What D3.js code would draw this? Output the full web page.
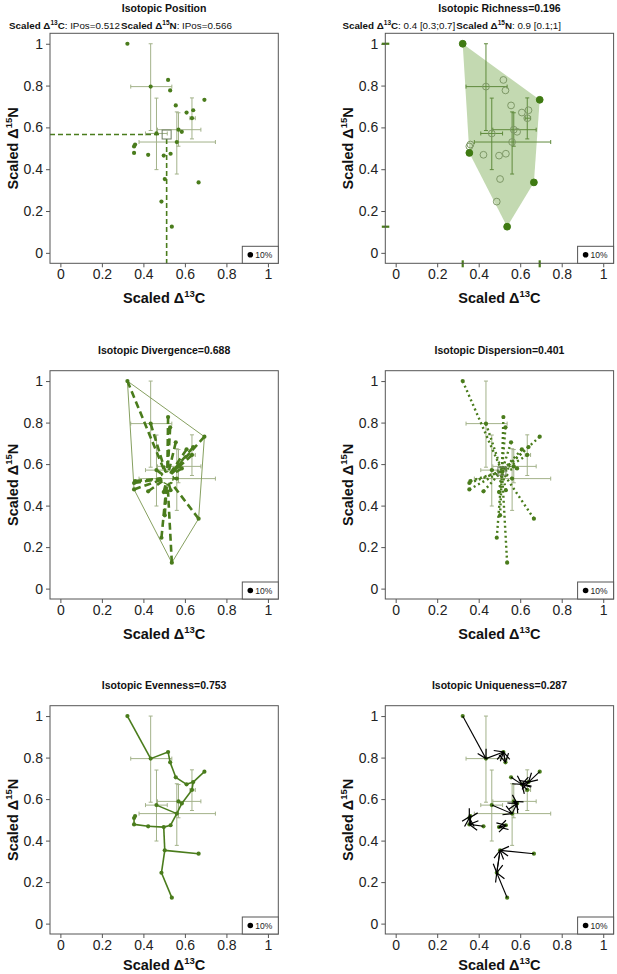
<!DOCTYPE html>
<html><head><meta charset="utf-8">
<script src="https://cdn.jsdelivr.net/npm/d3@7/dist/d3.min.js"></script>
<style>
html,body{margin:0;padding:0;background:#fff;}
svg{display:block;font-family:"Liberation Sans",Arial,sans-serif;}
</style></head>
<body>
<svg id="chart" width="617" height="974"></svg>
<script>
// ---- data (scaled isotopic values) ----
const c13 = [0.323,0.435,0.519,0.529,0.556,0.608,0.640,0.634,0.694,0.569,0.585,0.463,0.561,0.360,0.355,0.355,0.423,0.498,0.531,0.503,0.487,0.537,0.666];
const n15 = [1.000,0.795,0.827,0.777,0.705,0.671,0.682,0.644,0.732,0.589,0.579,0.571,0.530,0.518,0.509,0.478,0.469,0.465,0.474,0.353,0.245,0.125,0.337];
// error bars (mean ± sd) for species with several individuals
const sdIdx = [1, 11, 12, 9, 7];
const sdXlo = [0.339, 0.410, 0.379, 0.468, 0.624];
const sdXhi = [0.537, 0.515, 0.747, 0.677, 0.650];
const sdYlo = [0.585, 0.398, 0.377, 0.510, 0.545];
const sdYhi = [1.000, 0.740, 0.674, 0.670, 0.741];
// minimum spanning tree edges (Isotopic Evenness)
const mstEdges = [[0,1],[1,2],[2,3],[3,4],[4,5],[5,6],[6,8],[6,7],[7,10],[10,9],[10,12],[11,12],[12,18],[18,17],[17,16],[16,15],[15,14],[14,13],[17,19],[19,22],[19,20],[20,21]];
const ipos = [0.512, 0.566];
const panelTitles = ["Isotopic Position","Isotopic Richness=0.196","Isotopic Divergence=0.688","Isotopic Dispersion=0.401","Isotopic Evenness=0.753","Isotopic Uniqueness=0.287"];
const subC = [": IPos=0.512", ": 0.4 [0.3;0.7]"];
const subN = [": IPos=0.566", ": 0.9 [0.1;1]"];
const tickVals = [0, 0.2, 0.4, 0.6, 0.8, 1];
const tickLabels = ["0","0.2","0.4","0.6","0.8","1"];

// ---- layout ----
const colLeft = [50, 385.3];
const rowTop = [33.3, 370.7, 705.7];
const rowH = [230, 228.3, 228.3];
const W = 228.3;
const green = "#4a7c1c", barCol = "#a3b28a", hullFill = "#c3d9b1";

const svg = d3.select("#chart");
const defs = svg.append("defs");
defs.append("marker").attr("id","arr").attr("viewBox","-10 -6 12 12")
  .attr("refX",0).attr("refY",0).attr("markerWidth",12).attr("markerHeight",12)
  .attr("markerUnits","userSpaceOnUse").attr("orient","auto")
  .append("path").attr("d","M-8.5,-4.8L0,0L-8.5,4.8").attr("fill","none").attr("stroke","#000").attr("stroke-width",1.2);

const pts = c13.map((c,i)=>({x:c,y:n15[i],i}));

function axisLabel(g, x, y, iso, el, rotate){
  const t = g.append("text").attr("font-weight","bold").attr("font-size",14.5).attr("fill","#111")
    .attr("text-anchor","middle");
  if(rotate) t.attr("transform",`translate(${x},${y}) rotate(-90)`); else t.attr("x",x).attr("y",y);
  t.append("tspan").text("Scaled \u0394");
  t.append("tspan").attr("font-size",9.5).attr("dy",-6).text(iso);
  t.append("tspan").attr("dy",6).text(el);
}

for(let p=0;p<6;p++){
  const col = p%2, row = Math.floor(p/2);
  const L = colLeft[col], T = rowTop[row], H = rowH[row];
  const x = d3.scaleLinear().domain([-0.05,1.05]).range([L, L+W]);
  const y = d3.scaleLinear().domain([-0.05,1.05]).range([T+H, T]);
  const g = svg.append("g");

  // axes
  g.append("g").attr("transform",`translate(0,${T+H})`)
    .call(d3.axisBottom(x).tickValues(tickVals).tickFormat((d,i)=>tickLabels[i]).tickSize(4).tickPadding(2))
    .call(a=>{a.select(".domain").remove(); a.selectAll("line").attr("stroke","#555");
      a.selectAll("text").attr("font-size",14).attr("fill","#222").attr("font-family","Liberation Sans, Arial");});
  g.append("g").attr("transform",`translate(${L},0)`)
    .call(d3.axisLeft(y).tickValues(tickVals).tickFormat((d,i)=>tickLabels[i]).tickSize(4).tickPadding(3))
    .call(a=>{a.select(".domain").remove(); a.selectAll("line").attr("stroke","#555");
      a.selectAll("text").attr("font-size",14).attr("fill","#222").attr("font-family","Liberation Sans, Arial");});

  // titles
  const cx = L + W/2;
  g.append("text").attr("x",cx).attr("y", row===0 ? 12 : T-17).attr("text-anchor","middle")
    .attr("font-weight","bold").attr("font-size",10.5).attr("fill","#111").text(panelTitles[p]);
  if(row===0){
    const s1 = g.append("text").attr("x",L+70).attr("y",28.5).attr("text-anchor","end").attr("font-size",9.8).attr("fill","#111");
    s1.append("tspan").attr("font-weight","bold").text("Scaled \u0394");
    s1.append("tspan").attr("font-weight","bold").attr("font-size",6.5).attr("dy",-4).text("13");
    s1.append("tspan").attr("font-weight","bold").attr("dy",4).text("C");
    s1.append("tspan").text(subC[col]);
    const s2 = g.append("text").attr("x",L+71).attr("y",28.5).attr("text-anchor","start").attr("font-size",9.8).attr("fill","#111");
    s2.append("tspan").attr("font-weight","bold").text("Scaled \u0394");
    s2.append("tspan").attr("font-weight","bold").attr("font-size",6.5).attr("dy",-4).text("15");
    s2.append("tspan").attr("font-weight","bold").attr("dy",4).text("N");
    s2.append("tspan").text(subN[col]);
  }
  axisLabel(g, cx, Math.min(T+H+40, 970), "13", "C", false);
  axisLabel(g, L-32, T+H/2, "15", "N", true);

  const plot = g.append("g");

  // richness hull fill (below bars)
  const hull = d3.polygonHull(pts.map(d=>[d.x,d.y]));
  const hullSet = new Set(hull.map(h=>h[0]+","+h[1]));
  if(p===1){
    plot.append("path").attr("d","M"+hull.map(h=>[x(h[0]),y(h[1])].join(",")).join("L")+"Z")
      .attr("fill",hullFill).attr("stroke","none");
  }

  // error bars
  const bc = p===1 ? "#5f8a3c" : barCol;
  sdIdx.forEach((k,j)=>{
    const px = x(c13[k]), py = y(n15[k]);
    const cap = 2;
    plot.append("line").attr("x1",x(sdXlo[j])).attr("x2",x(sdXhi[j])).attr("y1",py).attr("y2",py).attr("stroke",bc).attr("stroke-width",1);
    [sdXlo[j],sdXhi[j]].forEach(v=>plot.append("line").attr("x1",x(v)).attr("x2",x(v)).attr("y1",py-cap).attr("y2",py+cap).attr("stroke",bc));
    plot.append("line").attr("x1",px).attr("x2",px).attr("y1",y(sdYlo[j])).attr("y2",y(sdYhi[j])).attr("stroke",bc).attr("stroke-width",1);
    [sdYlo[j],sdYhi[j]].forEach(v=>plot.append("line").attr("y1",y(v)).attr("y2",y(v)).attr("x1",px-cap).attr("x2",px+cap).attr("stroke",bc));
  });

  if(p===0){
    const s = 9;
    plot.append("line").attr("x1",L).attr("x2",x(ipos[0])-s/2).attr("y1",y(ipos[1])).attr("y2",y(ipos[1]))
      .attr("stroke",green).attr("stroke-width",1.6).attr("stroke-dasharray","5,3");
    plot.append("line").attr("x1",x(ipos[0])).attr("x2",x(ipos[0])).attr("y1",y(ipos[1])+s/2).attr("y2",T+H)
      .attr("stroke",green).attr("stroke-width",1.6).attr("stroke-dasharray","5,3");
    plot.append("rect").attr("x",x(ipos[0])-s/2).attr("y",y(ipos[1])-s/2).attr("width",s).attr("height",s)
      .attr("fill","none").attr("stroke","#6d7d60").attr("stroke-width",1);
  }
  if(p===1){
    // range marks on axes
    const xe = d3.extent(c13), ye = d3.extent(n15);
    xe.forEach(v=>plot.append("line").attr("x1",x(v)).attr("x2",x(v)).attr("y1",T+H-3).attr("y2",T+H+4).attr("stroke",green).attr("stroke-width",2.2));
    ye.forEach(v=>plot.append("line").attr("y1",y(v)).attr("y2",y(v)).attr("x1",L-3.5).attr("x2",L+4).attr("stroke",green).attr("stroke-width",2.2));
  }
  if(p===2){
    plot.append("path").attr("d","M"+hull.map(h=>[x(h[0]),y(h[1])].join(",")).join("L")+"Z")
      .attr("fill","none").attr("stroke","#86a060").attr("stroke-width",1);
    const gx = d3.mean(hull,h=>h[0]), gy = d3.mean(hull,h=>h[1]);
    const G = [x(gx), y(gy)], r = 6;
    plot.append("circle").attr("cx",G[0]).attr("cy",G[1]).attr("r",r).attr("fill","none")
      .attr("stroke",green).attr("stroke-width",1.5).attr("stroke-dasharray","3,2");
    pts.forEach(d=>{
      const X = x(d.x), Y = y(d.y), dx = G[0]-X, dy = G[1]-Y, len = Math.hypot(dx,dy);
      if(len<=r) return;
      plot.append("line").attr("x1",X).attr("y1",Y).attr("x2",G[0]-dx/len*r).attr("y2",G[1]-dy/len*r)
        .attr("stroke",green).attr("stroke-width",2.6).attr("stroke-dasharray","7,4");
    });
  }
  if(p===3){
    const C = [x(ipos[0]), y(ipos[1])];
    pts.forEach(d=>{
      plot.append("line").attr("x1",x(d.x)).attr("y1",y(d.y)).attr("x2",C[0]).attr("y2",C[1])
        .attr("stroke",green).attr("stroke-width",2.4).attr("stroke-dasharray","2,3");
    });
    const s = 8;
    plot.append("rect").attr("x",C[0]-s/2).attr("y",C[1]-s/2).attr("width",s).attr("height",s)
      .attr("fill","none").attr("stroke","#6d7d60").attr("stroke-width",1);
  }
  if(p===4){
    mstEdges.forEach(e=>{
      plot.append("line").attr("x1",x(c13[e[0]])).attr("y1",y(n15[e[0]])).attr("x2",x(c13[e[1]])).attr("y2",y(n15[e[1]]))
        .attr("stroke",green).attr("stroke-width",1.6);
    });
  }

  // points
  if(p===1){
    pts.forEach(d=>{
      const v = hullSet.has(d.x+","+d.y);
      plot.append("circle").attr("cx",x(d.x)).attr("cy",y(d.y)).attr("r",3.4)
        .attr("fill", v ? "#3f7a12" : "none").attr("stroke", v ? "#3f7a12" : "#7e9867").attr("stroke-width",1);
    });
  } else {
    pts.forEach(d=>{
      plot.append("circle").attr("cx",x(d.x)).attr("cy",y(d.y)).attr("r",2.1).attr("fill",green);
    });
  }

  if(p===5){
    pts.forEach((d,i)=>{
      let best=-1, bd=Infinity;
      pts.forEach((e,j)=>{ if(j!==i){ const dd=Math.hypot(e.x-d.x,e.y-d.y); if(dd<bd){bd=dd;best=j;} } });
      const e = pts[best];
      plot.append("line").attr("x1",x(d.x)).attr("y1",y(d.y)).attr("x2",x(e.x)).attr("y2",y(e.y))
        .attr("stroke","#000").attr("stroke-width",1.1).attr("marker-end","url(#arr)");
    });
  }

  // frame
  g.append("rect").attr("x",L).attr("y",T).attr("width",W).attr("height",H)
    .attr("fill","none").attr("stroke","#555").attr("stroke-width",1);
  // legend box
  g.append("rect").attr("x",L+W-36).attr("y",T+H-17).attr("width",36).attr("height",17)
    .attr("fill","#fff").attr("stroke","#555").attr("stroke-width",1);
  g.append("circle").attr("cx",L+W-28).attr("cy",T+H-8.5).attr("r",2.8).attr("fill","#000");
  g.append("text").attr("x",L+W-23).attr("y",T+H-5).attr("font-size",8.5).attr("fill","#222").text("10%");
}
</script>
</body></html>
